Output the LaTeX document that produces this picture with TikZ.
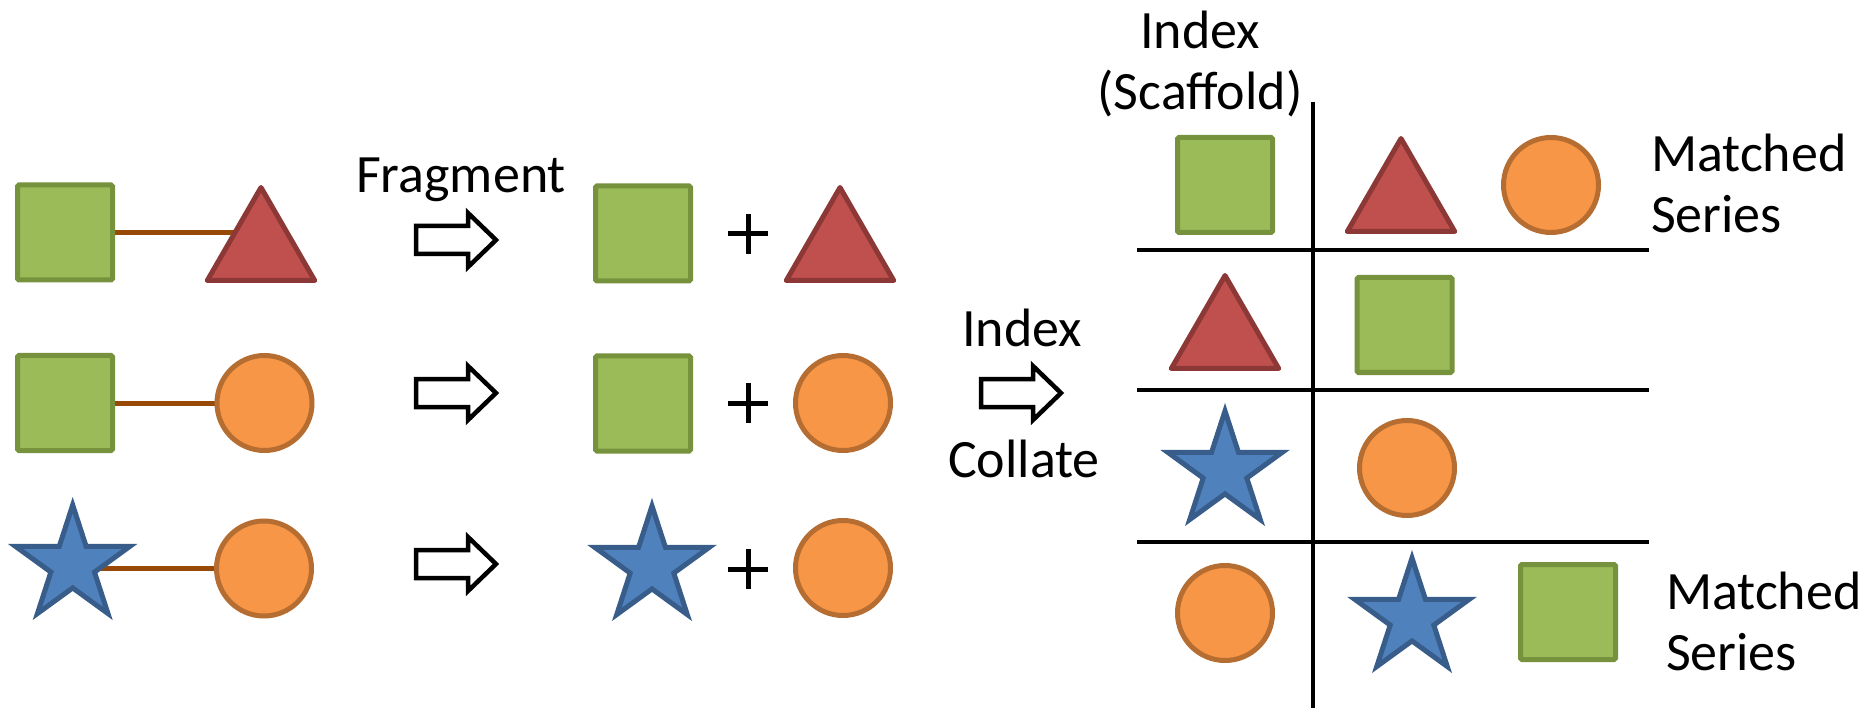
\documentclass[tikz,border=0pt]{standalone}
\usepackage{fontspec}
\setmainfont{Carlito}
\usetikzlibrary{shapes.geometric,backgrounds}

\definecolor{sqfill}{HTML}{9BBB59}
\definecolor{sqline}{HTML}{76923C}
\definecolor{trifill}{HTML}{C0504D}
\definecolor{triline}{HTML}{8C3836}
\definecolor{cifill}{HTML}{F79646}
\definecolor{ciline}{HTML}{B66D31}
\definecolor{stfill}{HTML}{4F81BD}
\definecolor{stline}{HTML}{385D8A}
\definecolor{linkcol}{HTML}{984807}

\tikzset{
  shp/.style={inner sep=0pt, outer sep=0pt, line width=5pt},
  sqshape/.style={shp, rectangle, minimum size=95pt, rounded corners=1.5pt, fill=sqfill, draw=sqline},
  trishape/.style={shp, regular polygon, regular polygon sides=3, minimum size=124pt, fill=trifill, draw=triline, line join=round},
  cishape/.style={shp, circle, minimum size=95pt, fill=cifill, draw=ciline},
  stshape/.style={shp, star, star points=5, star point ratio=2.618, minimum size=120pt, fill=stfill, draw=stline, line join=miter},
  linkline/.style={line width=5pt, draw=linkcol},
  lbl/.style={inner sep=0pt, outer sep=0pt, font=\fontsize{54}{61}\selectfont},
  tabline/.style={line width=4.5pt},
  blockarrow/.pic={\draw[line width=4.5pt, fill=white, line join=miter]
      (0,-14) -- (52,-14) -- (52,-27) -- (80,0) -- (52,27) -- (52,14) -- (0,14) -- cycle;},
  plussign/.pic={\draw[line width=5pt] (-20,0) -- (20,0) (0,-20) -- (0,20);}
}

\begin{document}
\begin{tikzpicture}[x=1pt, y=-1pt]
\useasboundingbox (0,0) rectangle (1868,708);

% linked pairs
\node[sqshape] (a1) at (65,232.5) {};
\node[trishape] (a2) at (261,249.5) {};
\node[sqshape] (b1) at (65,403) {};
\node[cishape] (b2) at (264.5,403) {};
\node[stshape] (c1) at (72.7,565) {};
\node[cishape] (c2) at (264,568.5) {};
\begin{pgfonlayer}{background}
  \draw[linkline] (a1) -- (a1 -| a2);
  \draw[linkline] (b1) -- (b2);
  \draw[linkline] (c2 -| c1) -- (c2);
\end{pgfonlayer}

% fragmentation step
\node[lbl, anchor=base] (frag) at (461,193) {Fragment};
\pic at (416,240) {blockarrow};
\pic at (416,393) {blockarrow};
\pic at (416,564) {blockarrow};

% fragments
\node[sqshape] (d1) at (643,233.5) {};
\pic at (748,234) {plussign};
\node[trishape] (d2) at (840,249.5) {};
\node[sqshape] (e1) at (643,403.5) {};
\pic at (748,403) {plussign};
\node[cishape] (e2) at (843,403) {};
\node[stshape] (f1) at (652,566) {};
\pic at (748,569) {plussign};
\node[cishape] (f2) at (843,568) {};

% indexing step
\node[lbl, anchor=base] (idx) at (1022,347) {Index};
\pic at (981,393) {blockarrow};
\node[lbl, anchor=base] (col) at (1024,477) {Collate};

% index table
\node[lbl, anchor=base, align=center] (scaf) at (1200,110) {Index\\(Scaffold)};
\draw[tabline] (1313,102) -- (1313,708);
\draw[tabline] (1137,250) -- (1649,250);
\draw[tabline] (1137,390) -- (1649,390);
\draw[tabline] (1137,542) -- (1649,542);

\node[sqshape] (r1a) at (1225,185) {};
\node[trishape] (r1b) at (1401,200.5) {};
\node[cishape] (r1c) at (1551,185) {};
\node[lbl, anchor=base west, align=left] (m1) at (1651,233) {Matched\\Series};

\node[trishape] (r2a) at (1225,337.5) {};
\node[sqshape] (r2b) at (1404.5,325) {};

\node[stshape] (r3a) at (1225,471) {};
\node[cishape] (r3b) at (1407,468) {};

\node[cishape] (r4a) at (1225,613) {};
\node[stshape] (r4b) at (1412,618) {};
\node[sqshape] (r4c) at (1568,612) {};
\node[lbl, anchor=base west, align=left] (m2) at (1666,670) {Matched\\Series};
\end{tikzpicture}
\end{document}
